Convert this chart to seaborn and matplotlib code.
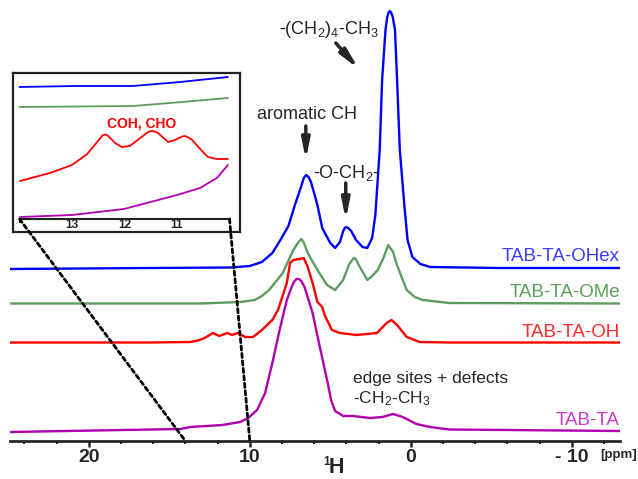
import numpy as np
import pandas as pd
import matplotlib.pyplot as plt
import seaborn as sns
from matplotlib.patches import ConnectionPatch
from matplotlib.ticker import MultipleLocator

sns.set_style('ticks')
plt.rcParams['font.family'] = ['Liberation Sans', 'DejaVu Sans']
plt.rcParams['mathtext.default'] = 'regular'

# 1H spektren, Intensitaet ueber der eigenen Basislinie
samples = ['TAB-TA-OHex', 'TAB-TA-OMe', 'TAB-TA-OH', 'TAB-TA']

ohex_ppm = [24.9, 16.2, 11.2, 10.0, 9.25, 8.6, 8.1, 7.6, 7.2, 6.8, 6.65, 6.5, 6.35, 6.2, 5.8, 5.5, 5.0, 4.7, 4.4, 4.2,
            4.1, 4.0, 3.9, 3.7, 3.4, 3.0, 2.7, 2.4, 2.2, 1.93, 1.78, 1.57, 1.46, 1.38, 1.3, 1.22, 1.12, 0.98, 0.85,
            0.68, 0.4, 0.2, -0.1, -0.6, -1.2, -5.5, -13.0]
ohex_int = [-1, 0, 0.5, 2, 6, 15, 28, 42, 63, 82, 90, 93, 91, 86, 63, 40, 25, 20, 26, 37,
            40, 41, 40, 37, 28, 21, 20, 30, 53, 118, 188, 238, 251, 255.5, 257, 255.5, 251, 238, 188,
            118, 63, 28, 11, 4, 1, 0, 0]

ome_ppm = [24.9, 13.1, 10.6, 9.7, 9.25, 8.8, 7.95, 7.3, 6.95, 6.8, 6.65, 6.4, 5.8, 5.2, 4.7, 4.2, 3.85, 3.6, 3.5,
           3.4, 3.2, 2.7, 2.4, 2.05, 1.7, 1.4, 1.1, 0.9, 0.55, 0.25, -0.25, -0.75, -2.4, -13.0]
ome_int = [0, 0, 1.5, 3.5, 7.5, 13.5, 30.5, 53.5, 62, 64.5, 61, 50.5, 33.5, 18.5, 13.5, 23.5, 38.5, 44.5, 45.5,
           44, 37.5, 23.5, 27.5, 33.5, 45.5, 58.5, 51.5, 40.5, 25.5, 13.5, 6.5, 3.5, 0.5, 0]

oh_ppm = [24.9, 16.2, 13.7, 13.1, 12.7, 12.3, 11.9, 11.4, 11.1, 10.75, 10.3, 9.8, 9.25, 8.6, 8.25, 7.7, 7.5, 7.3, 6.9,
          6.65, 6.4, 6.1, 5.8, 5.5, 5.35, 4.9, 4.4, 3.35, 2.1, 1.5, 1.2, 0.85, 0.25, -0.55, -2.4, -13.0]
oh_int = [0, 0, 0.5, 2.5, 5.5, 9.5, 6.5, 9.5, 7.5, 9.5, 5.5, 5.5, 12.5, 22.5, 32.5, 59.5, 79.5, 82.5, 83.5,
          84.5, 75.5, 59.5, 40.5, 35.5, 27.5, 12.5, 9.5, 7.5, 9.5, 19.5, 22.5, 17.5, 5.5, 0.5, 0, 0]

ta_ppm = [24.9, 14.3, 13.7, 11.7, 10.6, 10.1, 9.55, 9.05, 8.6, 8.15, 7.7, 7.4, 7.25, 7.1, 6.95, 6.8, 6.6, 6.1, 5.65,
          5.2, 4.95, 4.7, 4.2, 3.6, 2.55, 1.75, 1.1, 0.5, -0.35, -1.2, -2.4, -13.0]
ta_int = [-1, 2, 4, 6, 9, 13, 21, 38, 68, 101, 131, 144, 149.5, 152, 152, 150, 144, 118, 84,
          51, 31, 20, 15, 15, 13, 14, 17, 14, 7, 4, 1.5, 0]

# vertikaler Versatz der Spektren
offsets = [173, 137.5, 98.5, 10]

# Ausschnitt 14-10 ppm (Inset)
in_ohex_ppm = [14.0, 12.94, 11.84, 10.94, 10.03]
in_ohex_int = [132, 133, 133, 137, 142]
in_ome_ppm = [14.0, 11.84, 11.13, 10.03]
in_ome_int = [112, 113, 116, 121]
in_oh_ppm = [13.99, 13.42, 13.0, 12.71, 12.52, 12.46, 12.41, 12.36, 12.31, 12.18, 12.05, 11.9, 11.7, 11.55, 11.48,
             11.42, 11.36, 11.17, 11.04, 10.9, 10.85, 10.8, 10.71, 10.56, 10.41, 10.24, 10.03]
in_oh_int = [38, 46, 54, 65, 77, 81, 84, 84.5, 83, 76, 72, 73, 81, 87, 88, 87.5, 86, 77, 79, 82.5, 83, 82, 79, 70, 62,
             60, 60]
in_ta_ppm = [13.99, 13.0, 12.01, 11.0, 10.56, 10.24, 10.03]
in_ta_int = [2, 4, 10, 24, 31, 41, 54]

line_colors = ['#0000ff', '#5f9c5f', '#ff0000', '#b000b0']
label_colors = ['#3d3dff', '#5aa05a', '#ff2b2b', '#c83cc8']

main_sets = [(ohex_ppm, ohex_int), (ome_ppm, ome_int), (oh_ppm, oh_int), (ta_ppm, ta_int)]
inset_sets = [(in_ohex_ppm, in_ohex_int), (in_ome_ppm, in_ome_int), (in_oh_ppm, in_oh_int), (in_ta_ppm, in_ta_int)]

df = pd.concat([pd.DataFrame({'ppm': p, 'y': np.array(i) + off, 'sample': s})
                for s, (p, i), off in zip(samples, main_sets, offsets)], ignore_index=True)
df_in = pd.concat([pd.DataFrame({'ppm': p, 'y': i, 'sample': s})
                   for s, (p, i) in zip(samples, inset_sets)], ignore_index=True)
pal = dict(zip(samples, line_colors))

fig = plt.figure(figsize=(6.38, 4.79), dpi=100)
ax = fig.add_axes([10 / 638, 38 / 479, 610 / 638, 441 / 479])

sns.lineplot(data=df, x='ppm', y='y', hue='sample', palette=pal, estimator=None, sort=False,
             lw=1.7, solid_joinstyle='round', legend=False, ax=ax)
ax.set_xlim(24.9, -13.0)
ax.set_ylim(0, 441)
ax.set_xlabel('')
ax.set_ylabel('')
ax.set_yticks([])
sns.despine(ax=ax, left=True)
ax.spines['bottom'].set_linewidth(2)
ax.set_xticks([20, 10, 0, -10], ['20', '10', '0', '- 10'], fontsize=14, fontweight='bold')
ax.xaxis.set_minor_locator(MultipleLocator(2))
ax.tick_params(axis='x', which='major', direction='out', length=4, width=1.8, pad=1.5, bottom=True)
ax.tick_params(axis='x', which='minor', direction='out', length=2.5, width=1.5, bottom=True)

# Probenbezeichnungen
label_y = [180, 144, 104, 16]
for s, c, yy in zip(samples, label_colors, label_y):
    ax.text(-13.0, yy, s, ha='right', va='baseline', color=c, fontsize=13.5)

# Zuordnungen
arrow = dict(arrowstyle='-|>,head_length=0.9,head_width=0.18', lw=2.5, color='#262626',
             shrinkA=0, shrinkB=0, mutation_scale=13)
ax.text(8.2, 407, '-(CH$_2$)$_4$-CH$_3$', ha='left', va='baseline', fontsize=13)
ax.annotate('', xy=(3.23, 372), xytext=(4.66, 398), arrowprops=arrow)
ax.text(9.57, 322, 'aromatic CH', ha='left', va='baseline', fontsize=13)
ax.annotate('', xy=(6.52, 281), xytext=(6.52, 315), arrowprops=arrow)
ax.text(6.09, 263, '-O-CH$_2$-', ha='left', va='baseline', fontsize=13)
ax.annotate('', xy=(4.04, 221), xytext=(4.04, 258), arrowprops=arrow)
ax.text(3.6, 58, 'edge sites + defects', ha='left', va='baseline', fontsize=12.5)
ax.text(3.6, 38, '-CH$_2$-CH$_3$', ha='left', va='baseline', fontsize=12.5)

fig.text(637 / 638, 1 - 458 / 479, '[ppm]', ha='right', va='baseline', fontsize=9.5, fontweight='bold')
fig.text(323 / 638, 1 - 465 / 479, '1', ha='left', va='baseline', fontsize=8.5, fontweight='bold')
fig.text(329 / 638, 1 - 473 / 479, 'H', ha='left', va='baseline', fontsize=15.5, fontweight='bold')

# Inset
ax_in = fig.add_axes([13 / 638, 1 - 232 / 479, 227 / 638, 159 / 479])
sns.lineplot(data=df_in, x='ppm', y='y', hue='sample', palette=pal, estimator=None, sort=False,
             lw=1.3, solid_joinstyle='round', legend=False, ax=ax_in)
ax_in.set_xlim(14.124, 9.8)
ax_in.set_ylim(-13, 146)
ax_in.set_xlabel('')
ax_in.set_ylabel('')
ax_in.set_yticks([])
for sp in ax_in.spines.values():
    sp.set_visible(True)
    sp.set_linewidth(1.6)
    sp.set_color('#222222')
ax_in.plot([14, 10], [0, 0], color='#222222', lw=1.5)
ax_in.vlines([14, 10], -4, 0, color='#222222', lw=1.5)
ax_in.set_xticks([13, 12, 11], ['13', '12', '11'], fontsize=8.5, fontweight='bold')
ax_in.tick_params(axis='x', length=0, pad=-9.5)
ax_in.text(11.67, 92, 'COH, CHO', ha='center', va='baseline', color='#ff0000', fontsize=10, fontweight='bold')

# gestrichelte Verbindung Inset -> Achse
for x0 in [14, 10]:
    con = ConnectionPatch(xyA=(x0, 0), coordsA='data', axesA=ax_in, xyB=(x0, 0), coordsB='data', axesB=ax,
                          color='k', lw=2, linestyle=(0, (1.5, 1.2)))
    fig.add_artist(con)

fig.savefig('out.png', dpi=100)
